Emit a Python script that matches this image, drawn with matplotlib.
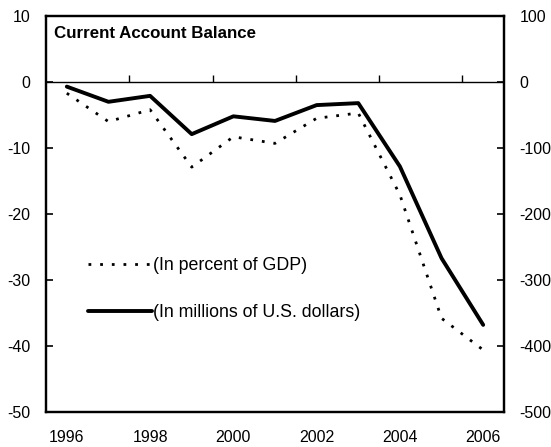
import matplotlib
matplotlib.use("Agg")
import matplotlib.pyplot as plt
import numpy as np

years = [1996, 1997, 1998, 1999, 2000, 2001, 2002, 2003, 2004, 2005, 2006]
pct_gdp = [-1.7, -6.0, -4.2, -12.9, -8.3, -9.3, -5.5, -4.7, -17.1, -35.8, -40.6]
usd_millions = [-7, -30, -21, -79, -52, -59, -35, -32, -128, -267, -368]
xtick_labels = [1996, 1998, 2000, 2002, 2004, 2006]
left_ticks = [10, 0, -10, -20, -30, -40, -50]
right_ticks = [100, 0, -100, -200, -300, -400, -500]

plt.rcParams['font.family'] = ['Liberation Sans', 'DejaVu Sans']
plt.rcParams['axes.unicode_minus'] = False
fig = plt.figure(figsize=(5.51, 4.47), dpi=100)
ax = fig.add_axes([46/551, 1-412/447, (504-46)/551, (412-16)/447])
ax2 = ax.twinx()

ax.set_xlim(1995.5, 2006.5)
ax.set_ylim(-50, 10)
ax2.set_ylim(-500, 100)

dot_style = (0, (1.0, 3.2))
l1, = ax.plot(years, pct_gdp, color='black', lw=2.0, linestyle=dot_style)
l2, = ax2.plot(years, usd_millions, color='black', lw=2.8, solid_capstyle='round')

# zero line with category-boundary ticks
ax.axhline(0, color='black', lw=1.0)
boundaries = np.arange(years[0] + 1.5, years[-1], 2)
ax.vlines(boundaries, 0, 1.1, color='black', lw=1.0)

ax.set_xticks(xtick_labels)
ax.set_xticklabels([str(y) for y in xtick_labels])
ax.tick_params(axis='x', length=0, pad=13, labelsize=11.5)
ax.set_yticks(left_ticks)
ax.tick_params(axis='y', direction='in', length=5, width=1.2, pad=11, labelsize=11.5)
ax2.set_yticks(right_ticks)
ax2.tick_params(axis='y', direction='in', length=5, width=1.2, pad=11, labelsize=11.5)

for a in (ax, ax2):
    for s in a.spines.values():
        s.set_linewidth(1.6)

ax.text(0.018, 0.975, 'Current Account Balance', transform=ax.transAxes,
        fontsize=12.2, fontweight='bold', va='top', ha='left')

leg = ax.legend([l1, l2], ['(In percent of GDP)', '(In millions of U.S. dollars)'],
                loc='upper left', bbox_to_anchor=(0.091, 0.392), frameon=False,
                fontsize=12.8, handlelength=3.6, handletextpad=0.1, labelspacing=1.72,
                borderaxespad=0, borderpad=0)

fig.savefig('out.png', dpi=100)
